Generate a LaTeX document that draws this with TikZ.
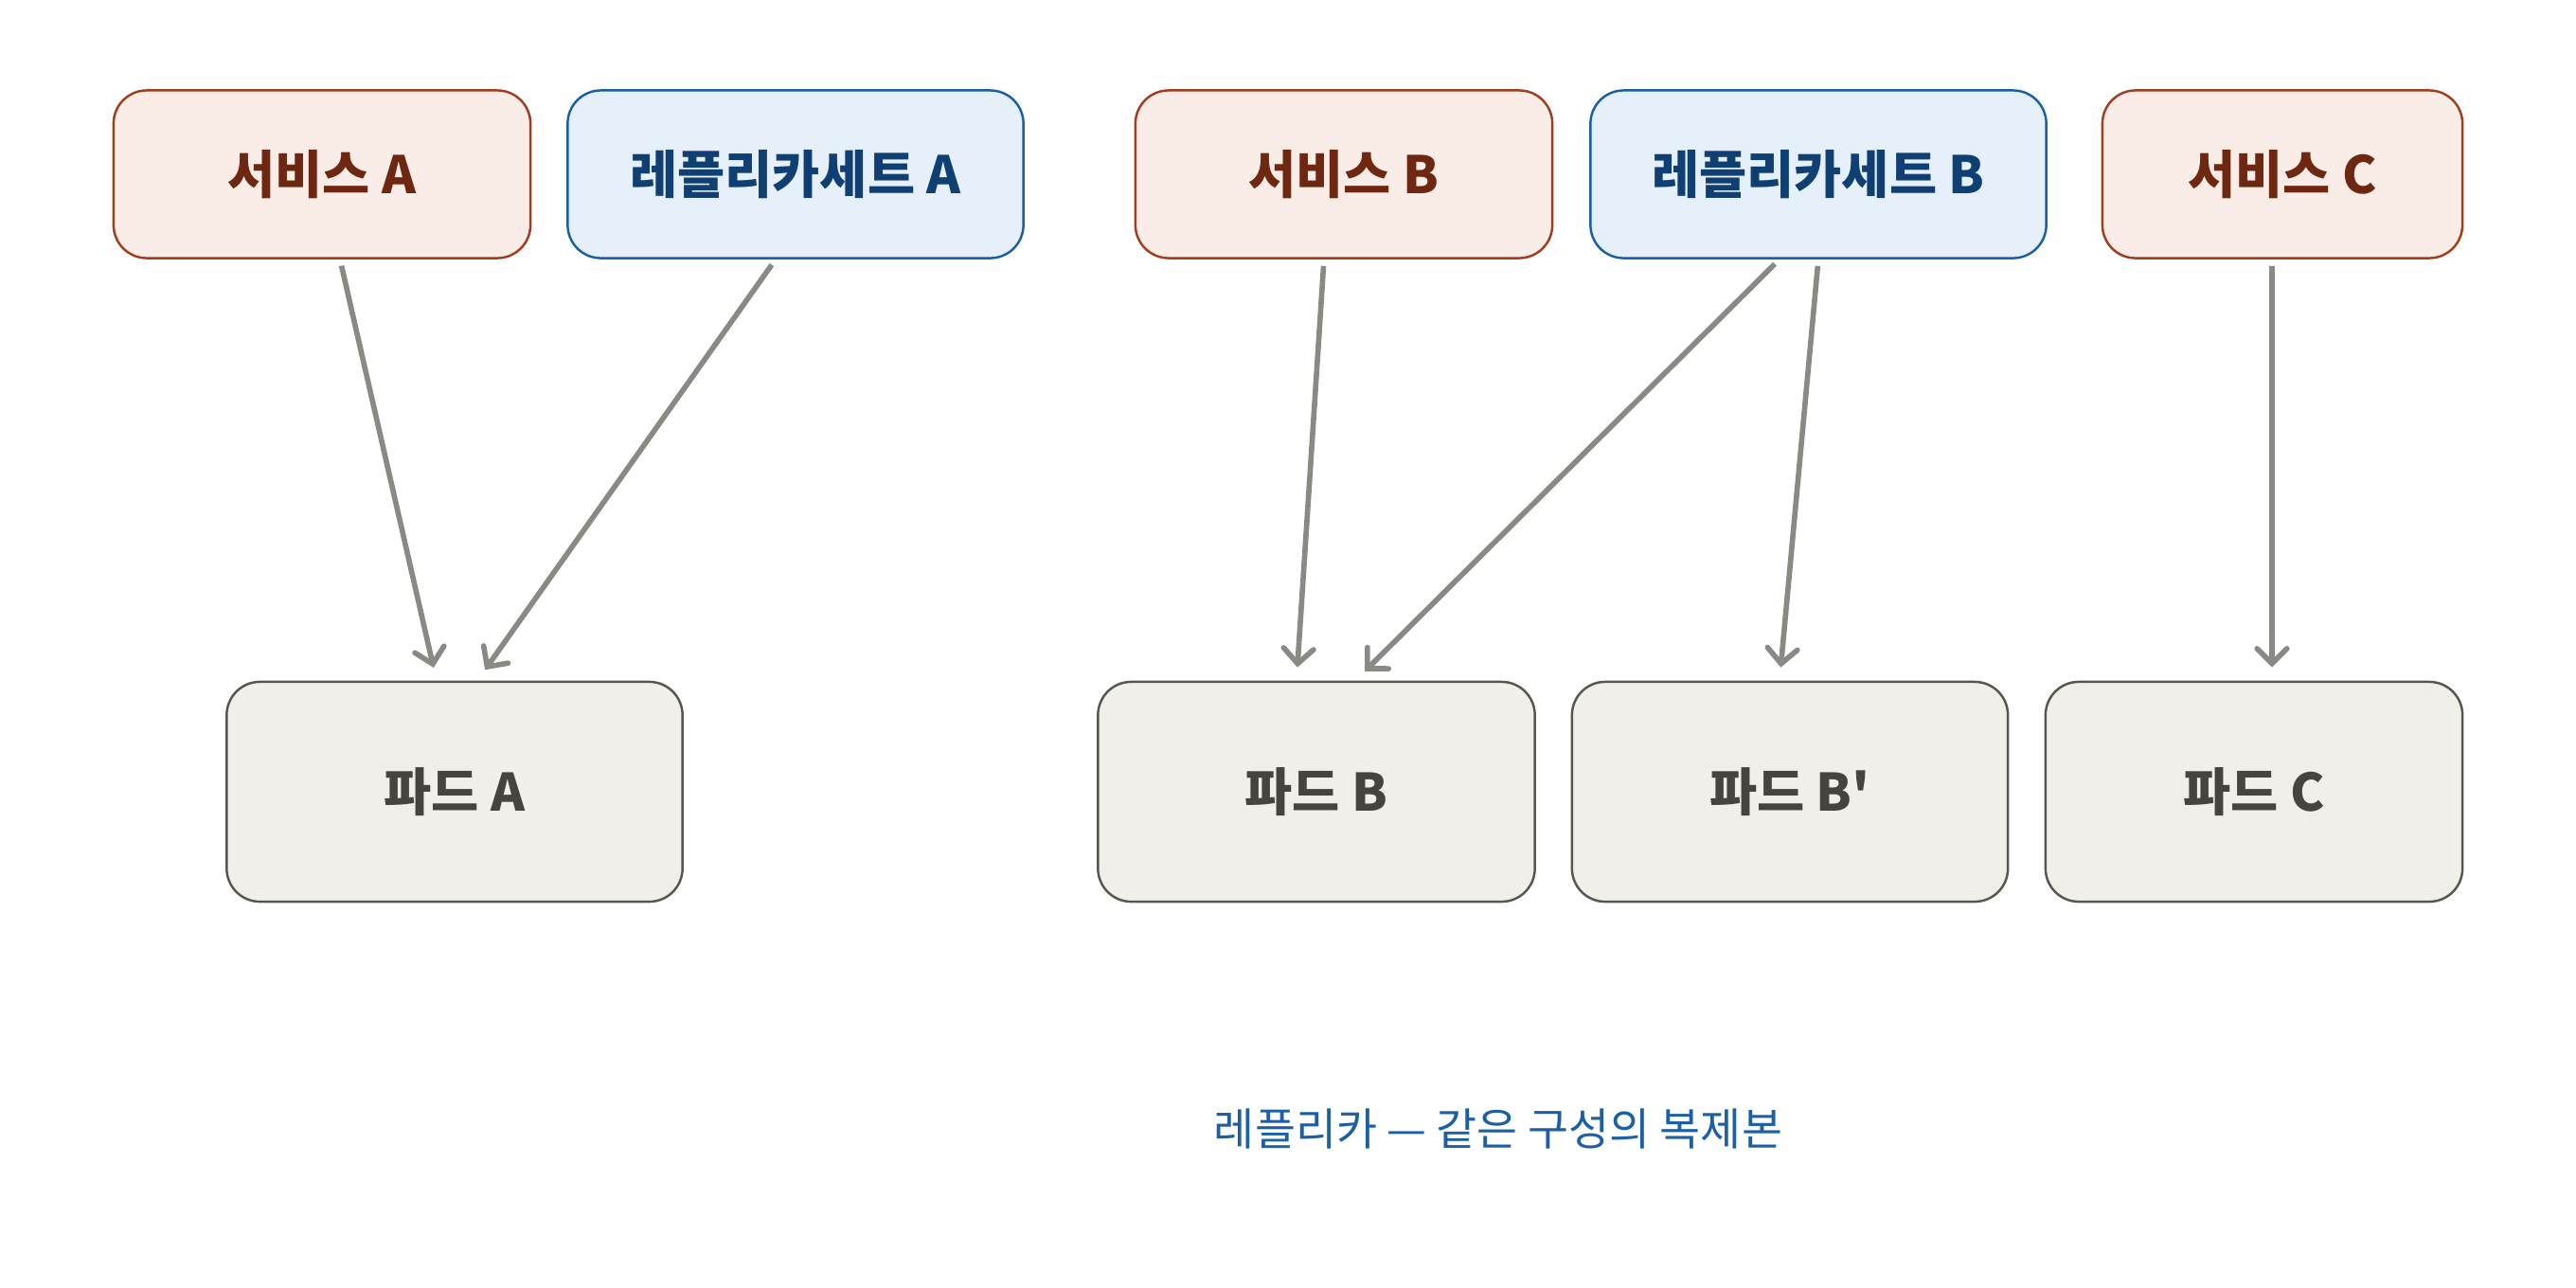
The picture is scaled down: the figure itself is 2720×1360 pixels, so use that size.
\documentclass[tikz,border=0pt]{standalone}
\usepackage{fontspec}
\newfontfamily\krfont{Noto Sans CJK KR}
\usetikzlibrary{arrows.meta}

\definecolor{svcfill}{HTML}{FAECE6}
\definecolor{svcline}{HTML}{A23E1E}
\definecolor{svctext}{HTML}{6E2812}
\definecolor{rsfill}{HTML}{E5F0FB}
\definecolor{rsline}{HTML}{1B5FA6}
\definecolor{rstext}{HTML}{0F3F73}
\definecolor{podfill}{HTML}{F1EFE9}
\definecolor{podline}{HTML}{57574F}
\definecolor{podtext}{HTML}{45443F}
\definecolor{linkgray}{HTML}{8A8A84}

\begin{document}
\begin{tikzpicture}[x=0.01cm,y=-0.01cm,
  box/.style={rounded corners=0.35cm,line width=0.7pt,minimum height=1.77cm,
    font=\krfont\fontsize{15.5}{18}\selectfont\bfseries,inner sep=0pt},
  svc/.style={box,draw=svcline,fill=svcfill,text=svctext},
  rs/.style={box,draw=rsline,fill=rsfill,text=rstext},
  pod/.style={box,draw=podline,fill=podfill,text=podtext,minimum height=2.32cm},
  link/.style={draw=linkgray,line width=1.6pt,shorten <=2pt,shorten >=4pt,
    -{Straight Barb[length=4.5pt,width=9pt,line cap=round]}}]

\useasboundingbox (0,0) rectangle (2720,1360);

% top row:
\node[svc,minimum width=4.40cm] (svcA) at (340,184) {서비스 A};
\node[rs,minimum width=4.81cm] (rsA) at (840,184) {레플리카세트 A};
\node[svc,minimum width=4.40cm] (svcB) at (1419,184) {서비스 B};
\node[rs,minimum width=4.81cm] (rsB) at (1920,184) {레플리카세트 B};
\node[svc,minimum width=3.80cm] (svcC) at (2410,184) {서비스 C};

% pods:
\node[pod,minimum width=4.81cm] (podA) at (480,836) {파드 A};
\node[pod,minimum width=4.61cm] (podB) at (1390,836) {파드 B};
\node[pod,minimum width=4.60cm] (podBB) at (1890,836) {파드 B'};
\node[pod,minimum width=4.40cm] (podC) at (2380,836) {파드 C};

% links:
\draw[link] ([xshift=0.19cm]svcA.south) -- ([xshift=-0.19cm]podA.north);
\draw[link] ([xshift=-0.21cm]rsA.south) -- ([xshift=0.24cm]podA.north);
\draw[link] ([xshift=-0.21cm]svcB.south) -- ([xshift=-0.21cm]podB.north);
\draw[link] ([xshift=-0.41cm]rsB.south) -- ([xshift=0.41cm]podB.north);
\draw[link] (rsB.south) -- ([xshift=-0.11cm]podBB.north);
\draw[link] ([xshift=-0.11cm]svcC.south) -- ([xshift=0.19cm]podC.north);

\node[text=rsline,font=\krfont\fontsize{13.3}{16}\selectfont] (note) at (1582,1192) {레플리카 — 같은 구성의 복제본};

\end{tikzpicture}
\end{document}
